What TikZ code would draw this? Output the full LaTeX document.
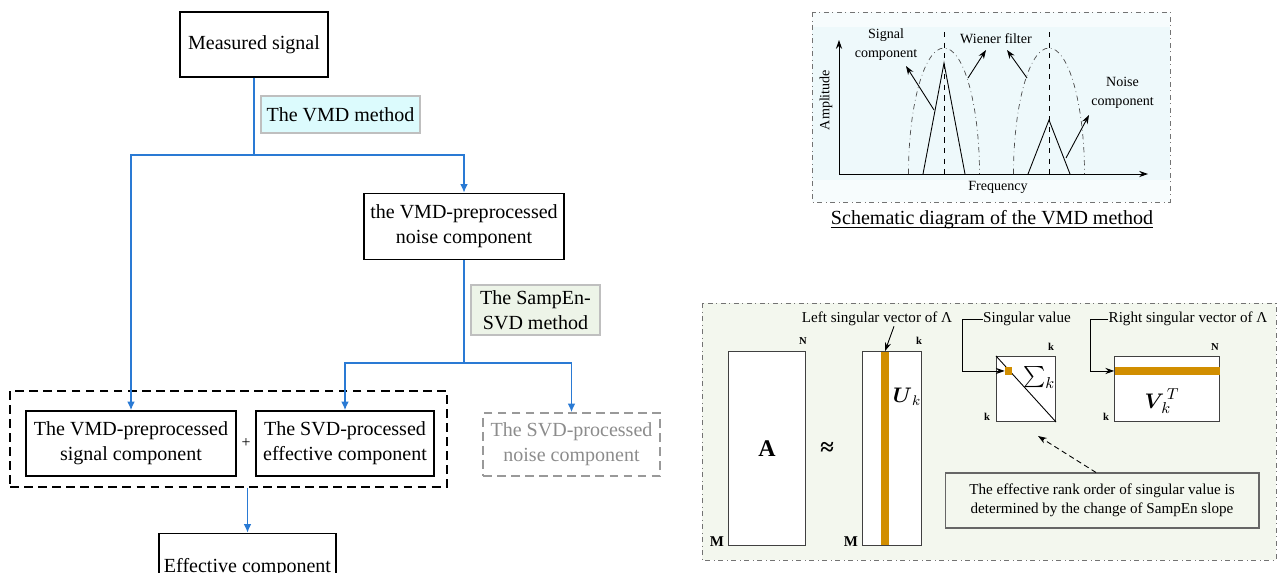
\documentclass[tikz,border=0pt]{standalone}
\usepackage{amsmath}
\usepackage{fontspec}
\setmainfont{Liberation Serif}
\usetikzlibrary{shapes, arrows.meta, positioning, calc}
\definecolor{flowblue}{HTML}{2A7AD4}
\definecolor{vmdcyan}{HTML}{DCFBFD}
\definecolor{sampgreen}{HTML}{EDF4E8}
\definecolor{panelcyan}{HTML}{EEF9FB}
\definecolor{panelgreen}{HTML}{F3F7EE}
\definecolor{svdorange}{HTML}{D18E00}
\tikzstyle{block} = [draw, line width=0.8pt, align=center, inner sep=0pt, font=\fontsize{11.4}{14.2}\selectfont]
\tikzstyle{method} = [draw=black!25, line width=0.6pt, align=center, inner sep=0pt, font=\fontsize{11.4}{14.2}\selectfont]
\tikzstyle{flow} = [draw=flowblue, line width=1.1pt, -{Latex[length=5pt,width=4.5pt]}]
\tikzstyle{matrixbox} = [draw=black!75, fill=white, line width=0.6pt, inner sep=0pt, anchor=south west]
\tikzstyle{orangebar} = [fill=svdorange, inner sep=0pt]
\tikzstyle{plotlabel} = [font=\fontsize{8}{10.8}\selectfont, inner sep=0pt, align=center]
\tikzstyle{svdlabel} = [font=\fontsize{8.6}{10.9}\selectfont, inner sep=0pt, align=center]
\tikzstyle{dimlabel} = [font=\bfseries\fontsize{6}{7}\selectfont, inner sep=0pt]
\tikzstyle{rowlabel} = [font=\bfseries\fontsize{8.5}{9}\selectfont, inner sep=0pt]
\tikzstyle{panelframe} = [draw=black!55, dash dot, line width=0.5pt]
\tikzstyle{thinarrow} = [-{Stealth[length=5pt,width=3.5pt]}, line width=0.5pt]
\tikzstyle{longdash} = [dash pattern=on 5pt off 3pt]

\begin{document}
\begin{tikzpicture}[x=0.02cm, y=-0.02cm]
	\useasboundingbox (0,0) rectangle (1278,572);
	\clip (0,0) rectangle (1278,572);

	% flow chart
	\coordinate (meas)    at (254,   44.5);
	\coordinate (vmdlab)  at (340.5, 114.5);
	\coordinate (noise)   at (464,   226.5);
	\coordinate (samplab) at (535.5, 310);
	\coordinate (group)   at (228.5, 439);
	\coordinate (sigc)    at (131,   443.5);
	\coordinate (effc)    at (345,   443.5);
	\coordinate (nsvd)    at (571.5, 444.5);
	\coordinate (outc)    at (247.5, 568);
	\coordinate (split1)  at (254,   155);
	\coordinate (split2)  at (464,   363);

	\node[block, minimum width=2.96cm, minimum height=1.3cm] (MEA) at (meas) {Measured signal};
	\node[method, fill=vmdcyan, minimum width=3.18cm, minimum height=0.74cm] (VMD) at (vmdlab) {The VMD method};
	\node[block, minimum width=4cm, minimum height=1.32cm] (NOI) at (noise) {the VMD-preprocessed\\noise component};
	\node[method, fill=sampgreen, minimum width=2.58cm, minimum height=1cm] (SAM) at (samplab) {The SampEn-\\SVD method};
	\node[draw, longdash, line width=0.7pt, minimum width=8.74cm, minimum height=1.92cm] (GRP) at (group) {};
	\node[block, minimum width=4.2cm, minimum height=1.3cm] (SIG) at (sigc) {The VMD-preprocessed\\signal component};
	\node[block, minimum width=3.56cm, minimum height=1.3cm] (EFF) at (effc) {The SVD-processed\\effective component};
	\node[font=\fontsize{9}{10}\selectfont, inner sep=0pt] (PLS) at ($(SIG.east)!0.5!(EFF.west)$) {+};
	\node[block, draw=black!40, longdash, text=black!45, minimum width=3.54cm, minimum height=1.26cm] (NSV) at (nsvd) {The SVD-processed\\noise component};
	\node[block, minimum width=3.54cm, minimum height=1.38cm] (OUT) at (outc) {Effective component};

	\draw[flow] (MEA.south) -- (split1) -| (SIG.north);
	\draw[flow] (split1) -| (NOI.north);
	\draw[flow] (NOI.south) -- (split2) -| (EFF.north);
	\draw[flow] (split2) -| (NSV.north);
	\draw[flow] (OUT.north |- GRP.south) -- (OUT.north);

	% VMD schematic
	\fill[panelcyan!50] (812,12) rectangle (1170,202);
	\fill[panelcyan] (812,27) rectangle (1170,180);
	\draw[panelframe] (812,12) rectangle (1170,202);
	\coordinate (origin) at (839,174);
	\draw[thinarrow] (origin) -- (839,40);
	\draw[thinarrow] (origin) -- (1148,174);
	\node[plotlabel, rotate=90] (AMP) at (826,100) {Amplitude};
	\node[plotlabel] (FRQ) at (998,187) {Frequency};

	\draw[line width=0.5pt] (923,174) -- (944,63) -- (965,174);
	\draw[dashed, line width=0.5pt] (944,32) -- (944,174);
	\draw[dash dot, line width=0.4pt, black!70] (908.5,174) arc[start angle=180, end angle=360, x radius=35.5, y radius=126];
	\draw[line width=0.5pt] (1028,174) -- (1049,120) -- (1070,174);
	\draw[dashed, line width=0.5pt] (1049,32) -- (1049,174);
	\draw[dash dot, line width=0.4pt, black!70] (1013.5,174) arc[start angle=180, end angle=360, x radius=35.5, y radius=126];

	\node[plotlabel] (SGL) at (886,44.5) {Signal\\component};
	\node[plotlabel] (WIE) at (996,39) {Wiener filter};
	\node[plotlabel] (NSC) at (1122.5,92.5) {Noise\\component};
	\draw[thinarrow] (934,110) -- (906,66);
	\draw[thinarrow] (968,78) -- (986,50);
	\draw[thinarrow] (1027,78) -- (1007,50);
	\draw[thinarrow] (1066,158) -- (1089,115);
	\node[font=\fontsize{11.4}{14}\selectfont, inner sep=0pt] (CAP) at (992,220) {Schematic diagram of the VMD method};
	\draw[line width=0.5pt] ($(CAP.base west)+(0,3)$) -- ($(CAP.base east)+(0,3)$);

	% SVD schematic
	\fill[panelgreen] (702,303) rectangle (1276,560);
	\draw[panelframe] (702,303) rectangle (1276,560);
	\coordinate (amat) at (728,546);
	\coordinate (umat) at (862,546);
	\coordinate (smat) at (996,422);
	\coordinate (vmat) at (1114,422);
	\node[matrixbox, minimum width=1.54cm, minimum height=3.88cm] (AM) at (amat) {};
	\node[matrixbox, minimum width=1.18cm, minimum height=3.88cm] (UM) at (umat) {};
	\node[matrixbox, minimum width=1.18cm, minimum height=1.3cm] (SM) at (smat) {};
	\node[matrixbox, minimum width=2.1cm, minimum height=1.3cm] (VM) at (vmat) {};
	\draw[line width=0.5pt] (SM.north west) -- (SM.south east);
	\node[orangebar, minimum width=0.16cm, minimum height=3.88cm] (UCOL) at ($(UM.west)+(23,0)$) {};
	\node[orangebar, minimum width=2.1cm, minimum height=0.16cm] (VROW) at ($(VM.north)+(0,15)$) {};
	\node[orangebar, minimum width=0.14cm, minimum height=0.16cm] (SQ) at ($(SM.north west)+(12.5,15)$) {};

	\node[font=\bfseries\fontsize{13.6}{16}\selectfont, inner sep=0pt] (ALB) at (AM.center) {A};
	\node[font=\bfseries\fontsize{14}{16}\selectfont, inner sep=0pt] (APX) at ($(AM.east)+(21,0)$) {≈};
	\node[dimlabel] at ($(AM.north east)+(-3,-10)$) {N};
	\node[rowlabel] at ($(AM.south west)+(-11,-4)$) {M};
	\node[dimlabel] at ($(UM.north east)+(-3,-10)$) {k};
	\node[rowlabel] at ($(UM.south west)+(-11,-4)$) {M};
	\node[font=\fontsize{12}{14}\selectfont, inner sep=0pt] (ULB) at ($(UM.north east)+(-15,46)$) {$\boldsymbol{U}_k$};
	\node[dimlabel] at ($(SM.north east)+(-5,-9)$) {k};
	\node[dimlabel] at ($(SM.south west)+(-9,-5)$) {k};
	\node[font=\fontsize{13}{15}\selectfont, inner sep=0pt] (SLB) at ($(SM.north east)+(-17,22)$) {$\textstyle\sum_k$};
	\node[dimlabel] at ($(VM.north east)+(-5,-9)$) {N};
	\node[dimlabel] at ($(VM.south west)+(-8,-5)$) {k};
	\node[font=\fontsize{12.5}{14}\selectfont, inner sep=0pt] (VLB) at ($(VM.center)+(-5,12)$) {$\boldsymbol{V}_{\!k}^{\,T}$};

	\node[svdlabel] (LSV) at (877,319) {Left singular vector of Λ};
	\node[svdlabel] (SVL) at (1027,319) {Singular value};
	\node[svdlabel] (RSV) at (1188,319) {Right singular vector of Λ};
	\coordinate (svbend)  at (962,319);
	\coordinate (rsvbend) at (1090,319);
	\draw[thinarrow] ($(LSV.south)+(17,0)$) -- (UCOL.north);
	\draw[thinarrow] (SVL.west) -- (svbend) |- (SQ.west);
	\draw[thinarrow] (RSV.west) -- (rsvbend) |- (VROW.west);

	\node[svdlabel, draw=black!60, line width=0.6pt, minimum width=6.28cm, minimum height=1.1cm] (NOTE) at (1102,500.5) {The effective rank order of singular value is\\determined by the change of SampEn slope};
	\coordinate (rankpt) at (1038,436);
	\draw[thinarrow, densely dashed] ($(NOTE.north)+(-6,0)$) -- (rankpt);
\end{tikzpicture}
\end{document}
